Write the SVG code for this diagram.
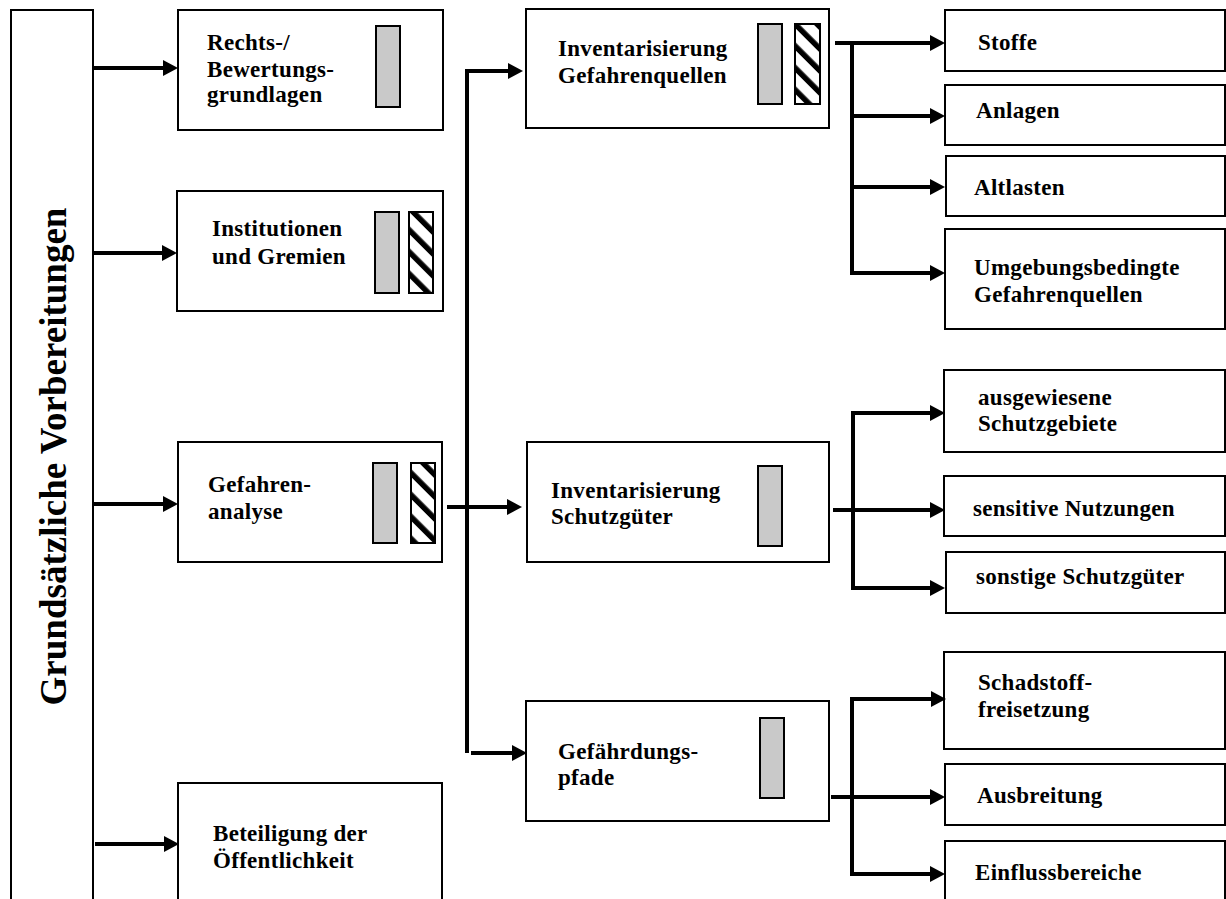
<svg xmlns="http://www.w3.org/2000/svg" width="1226" height="899" viewBox="0 0 1226 899">
  <style>
    .box { fill: #fff; stroke: #000; stroke-width: 2; }
    .bar { fill: #c9c9c9; stroke: #000; stroke-width: 2; }
    .hatch { fill: url(#stripes); stroke: #000; stroke-width: 2; }
    .lbl { font-family: "Liberation Serif", "Times New Roman", serif; font-weight: bold; font-size: 23px; letter-spacing: 0.3px; fill: #000; }
    .title { font-family: "Liberation Serif", "Times New Roman", serif; font-weight: bold; font-size: 37px; fill: #000; }
    .con { fill: none; stroke: #000; stroke-width: 4; }
  </style>
  <defs>
    <pattern id="stripes" patternUnits="userSpaceOnUse" width="15.5" height="15.5" patternTransform="rotate(-45)">
      <rect x="0" y="0" width="15.5" height="15.5" fill="#fff"/>
      <rect x="0" y="0" width="5.5" height="15.5" fill="#000"/>
    </pattern>
    <marker id="arrow" markerUnits="userSpaceOnUse" markerWidth="15" markerHeight="16" refX="2" refY="8" orient="auto">
      <path d="M0,0 L15,8 L0,16 z" fill="#000"/>
    </marker>
  </defs>

  <!-- vertical heading column -->
  <g id="grundsaetzliche-vorbereitungen">
    <rect class="box" x="11" y="10" width="82" height="900"/>
    <text class="title" transform="translate(66,456.5) rotate(-90)" text-anchor="middle">Grundsätzliche Vorbereitungen</text>
  </g>

  <!-- second column -->
  <g id="rechtsgrundlagen">
    <rect class="box" x="178" y="10" width="265" height="120"/>
    <text class="lbl" x="207" y="50">Rechts-/</text>
    <text class="lbl" x="207" y="77">Bewertungs-</text>
    <text class="lbl" x="207" y="102">grundlagen</text>
    <rect class="bar" x="376" y="26" width="24" height="81"/>
  </g>

  <g id="institutionen">
    <rect class="box" x="177" y="191" width="266" height="120"/>
    <text class="lbl" x="212" y="236">Institutionen</text>
    <text class="lbl" x="212" y="264">und Gremien</text>
    <rect class="bar" x="375" y="212" width="24" height="81"/>
    <rect class="hatch" x="409" y="212" width="24" height="81"/>
  </g>

  <g id="gefahrenanalyse">
    <rect class="box" x="178" y="442" width="264" height="120"/>
    <text class="lbl" x="208" y="492">Gefahren-</text>
    <text class="lbl" x="208" y="519">analyse</text>
    <rect class="bar" x="373" y="463" width="24" height="80"/>
    <rect class="hatch" x="411" y="463" width="24" height="80"/>
  </g>

  <g id="beteiligung">
    <rect class="box" x="178" y="783" width="264" height="130"/>
    <text class="lbl" x="213" y="841">Beteiligung der</text>
    <text class="lbl" x="213" y="868">Öffentlichkeit</text>
  </g>

  <!-- third column -->
  <g id="inventar-gefahrenquellen">
    <rect class="box" x="526" y="9" width="303" height="119"/>
    <text class="lbl" x="558" y="56">Inventarisierung</text>
    <text class="lbl" x="558" y="83">Gefahrenquellen</text>
    <rect class="bar" x="758" y="24" width="24" height="80"/>
    <rect class="hatch" x="795" y="24" width="25" height="80"/>
  </g>

  <g id="inventar-schutzgueter">
    <rect class="box" x="527" y="442" width="302" height="120"/>
    <text class="lbl" x="551" y="498">Inventarisierung</text>
    <text class="lbl" x="551" y="524">Schutzgüter</text>
    <rect class="bar" x="758" y="466" width="24" height="80"/>
  </g>

  <g id="gefaehrdungspfade">
    <rect class="box" x="526" y="701" width="303" height="120"/>
    <text class="lbl" x="558" y="759">Gefährdungs-</text>
    <text class="lbl" x="558" y="785">pfade</text>
    <rect class="bar" x="760" y="718" width="24" height="80"/>
  </g>

  <!-- fourth column -->
  <g id="stoffe">
    <rect class="box" x="945" y="10" width="280" height="61"/>
    <text class="lbl" x="978" y="50">Stoffe</text>
  </g>
  <g id="anlagen">
    <rect class="box" x="945" y="85" width="280" height="60"/>
    <text class="lbl" x="976" y="118">Anlagen</text>
  </g>
  <g id="altlasten">
    <rect class="box" x="946" y="156" width="279" height="60"/>
    <text class="lbl" x="974" y="195">Altlasten</text>
  </g>
  <g id="umgebungsbedingte">
    <rect class="box" x="945" y="229" width="280" height="100"/>
    <text class="lbl" x="974" y="275">Umgebungsbedingte</text>
    <text class="lbl" x="974" y="302">Gefahrenquellen</text>
  </g>
  <g id="schutzgebiete">
    <rect class="box" x="944" y="370" width="281" height="82"/>
    <text class="lbl" x="978" y="405">ausgewiesene</text>
    <text class="lbl" x="978" y="431">Schutzgebiete</text>
  </g>
  <g id="sensitive-nutzungen">
    <rect class="box" x="944" y="476" width="281" height="60"/>
    <text class="lbl" x="973" y="516">sensitive Nutzungen</text>
  </g>
  <g id="sonstige-schutzgueter">
    <rect class="box" x="946" y="552" width="279" height="61"/>
    <text class="lbl" x="976" y="584">sonstige Schutzgüter</text>
  </g>
  <g id="schadstofffreisetzung">
    <rect class="box" x="944" y="652" width="281" height="97"/>
    <text class="lbl" x="978" y="690">Schadstoff-</text>
    <text class="lbl" x="978" y="717">freisetzung</text>
  </g>
  <g id="ausbreitung">
    <rect class="box" x="945" y="764" width="280" height="61"/>
    <text class="lbl" x="977" y="803">Ausbreitung</text>
  </g>
  <g id="einflussbereiche">
    <rect class="box" x="945" y="841" width="280" height="70"/>
    <text class="lbl" x="975" y="880">Einflussbereiche</text>
  </g>

  <!-- connectors -->
  <g id="connectors">
    <!-- from the heading column -->
    <path class="con" d="M93,68 H165" marker-end="url(#arrow)"/>
    <path class="con" d="M93,253 H164" marker-end="url(#arrow)"/>
    <path class="con" d="M93,504 H165" marker-end="url(#arrow)"/>
    <path class="con" d="M95,844 H166" marker-end="url(#arrow)"/>

    <!-- Gefahrenanalyse to the three inventories -->
    <path class="con" d="M447,507 H509" marker-end="url(#arrow)"/>
    <path class="con" d="M467,753 V71 H510" marker-end="url(#arrow)"/>
    <path class="con" d="M471,753 H514" marker-end="url(#arrow)"/>

    <!-- Gefahrenquellen branches -->
    <path class="con" d="M835,43 H932" marker-end="url(#arrow)"/>
    <path class="con" d="M852,43 V273"/>
    <path class="con" d="M852,116 H932" marker-end="url(#arrow)"/>
    <path class="con" d="M852,187 H932" marker-end="url(#arrow)"/>
    <path class="con" d="M850,273 H932" marker-end="url(#arrow)"/>

    <!-- Schutzgüter branches -->
    <path class="con" d="M853,413 V588"/>
    <path class="con" d="M851,413 H932" marker-end="url(#arrow)"/>
    <path class="con" d="M833,510 H932" marker-end="url(#arrow)"/>
    <path class="con" d="M851,588 H932" marker-end="url(#arrow)"/>

    <!-- Gefährdungspfade branches -->
    <path class="con" d="M852,699 V874"/>
    <path class="con" d="M850,699 H933" marker-end="url(#arrow)"/>
    <path class="con" d="M831,797 H932" marker-end="url(#arrow)"/>
    <path class="con" d="M850,874 H932" marker-end="url(#arrow)"/>
  </g>
</svg>
